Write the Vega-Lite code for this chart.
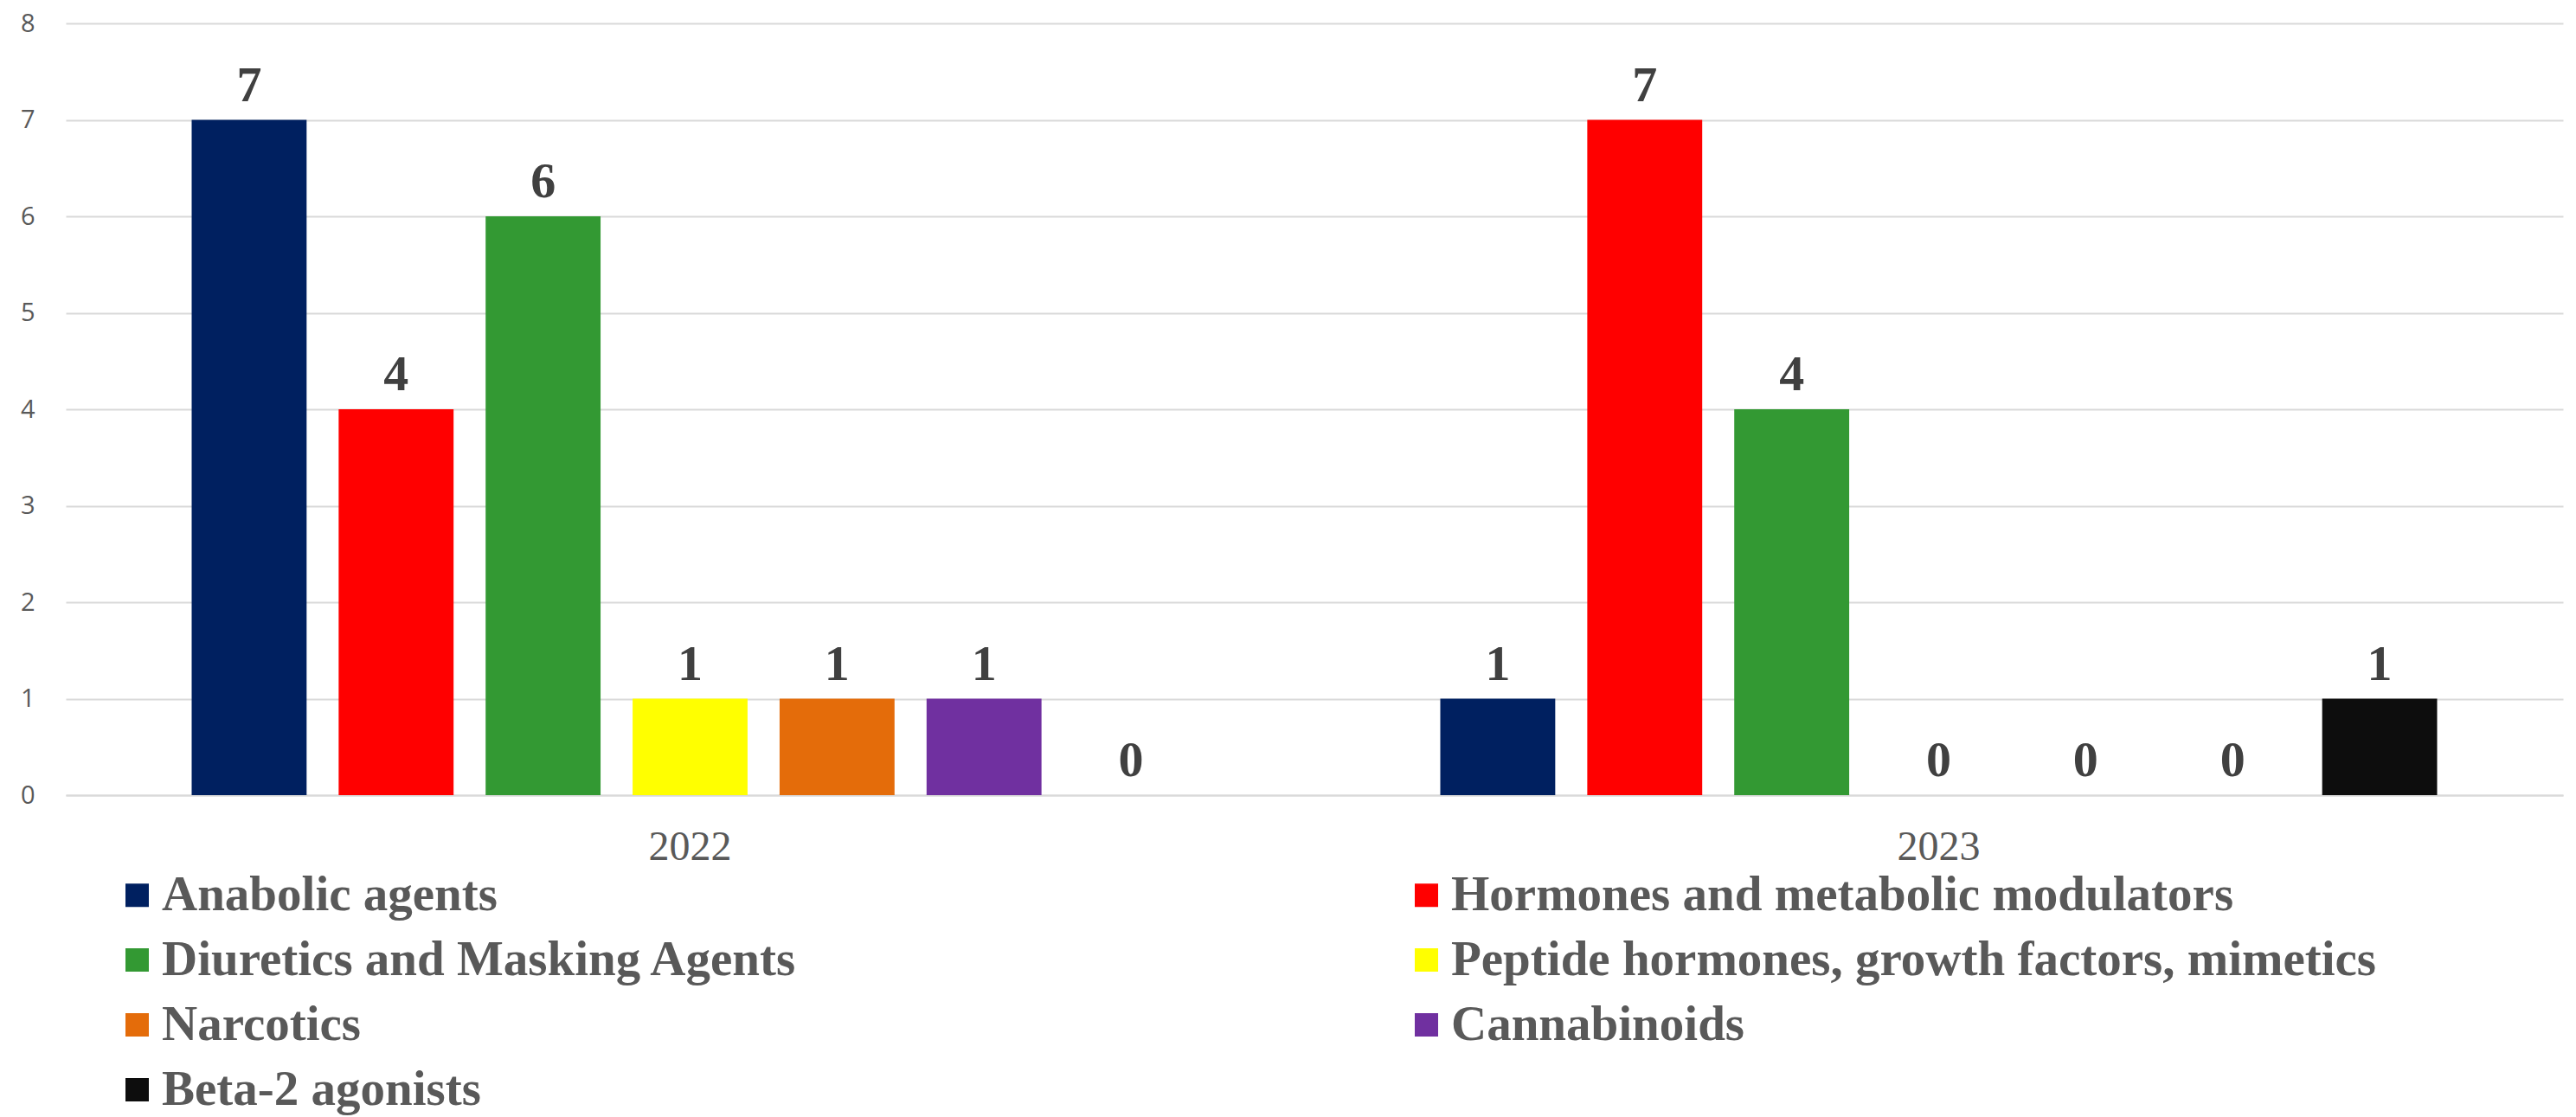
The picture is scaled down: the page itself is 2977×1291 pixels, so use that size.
{
  "$schema": "https://vega.github.io/schema/vega-lite/v6.json",
  "autosize": {"type": "none"},
  "padding": {"left": 76, "top": 27, "right": 15, "bottom": 372},
  "width": 2886,
  "height": 892,
  "background": "white",
  "config": {"view": {"stroke": null}},
  "data": {
    "values": [
      {"year": "2022", "category": "Anabolic agents", "count": 7},
      {"year": "2022", "category": "Hormones and metabolic modulators", "count": 4},
      {"year": "2022", "category": "Diuretics and Masking Agents", "count": 6},
      {"year": "2022", "category": "Peptide hormones, growth factors, mimetics", "count": 1},
      {"year": "2022", "category": "Narcotics", "count": 1},
      {"year": "2022", "category": "Cannabinoids", "count": 1},
      {"year": "2022", "category": "Beta-2 agonists", "count": 0},
      {"year": "2023", "category": "Anabolic agents", "count": 1},
      {"year": "2023", "category": "Hormones and metabolic modulators", "count": 7},
      {"year": "2023", "category": "Diuretics and Masking Agents", "count": 4},
      {"year": "2023", "category": "Peptide hormones, growth factors, mimetics", "count": 0},
      {"year": "2023", "category": "Narcotics", "count": 0},
      {"year": "2023", "category": "Cannabinoids", "count": 0},
      {"year": "2023", "category": "Beta-2 agonists", "count": 1}
    ]
  },
  "encoding": {
    "x": {
      "field": "year", "type": "nominal",
      "scale": {"paddingInner": 0.176, "paddingOuter": 0.088},
      "axis": {
        "title": null, "labelAngle": 0, "ticks": false,
        "domainColor": "#d9d9d9", "domainWidth": 2,
        "labelFont": "Liberation Serif", "labelFontSize": 48, "labelColor": "#595959",
        "labelPadding": 36
      }
    },
    "xOffset": {
      "field": "category", "type": "nominal",
      "sort": ["Anabolic agents", "Hormones and metabolic modulators", "Diuretics and Masking Agents", "Peptide hormones, growth factors, mimetics", "Narcotics", "Cannabinoids", "Beta-2 agonists"],
      "scale": {"paddingInner": 0.218, "paddingOuter": 0.109}
    },
    "y": {
      "field": "count", "type": "quantitative",
      "scale": {"domain": [0, 8], "nice": false},
      "axis": {
        "title": null, "values": [0, 1, 2, 3, 4, 5, 6, 7, 8],
        "domain": false, "ticks": false, "labelOverlap": false,
        "gridColor": "#d9d9d9", "gridWidth": 2,
        "labelFont": "Open Sans", "labelFontSize": 29, "labelColor": "#595959",
        "labelPadding": 36
      }
    }
  },
  "layer": [
    {
      "mark": {"type": "bar"},
      "encoding": {
        "color": {
          "field": "category", "type": "nominal",
          "sort": ["Anabolic agents", "Hormones and metabolic modulators", "Diuretics and Masking Agents", "Peptide hormones, growth factors, mimetics", "Narcotics", "Cannabinoids", "Beta-2 agonists"],
          "scale": {
            "domain": ["Anabolic agents", "Hormones and metabolic modulators", "Diuretics and Masking Agents", "Peptide hormones, growth factors, mimetics", "Narcotics", "Cannabinoids", "Beta-2 agonists"],
            "range": ["#002060", "#FF0000", "#339933", "#FFFF00", "#E46C0A", "#7030A0", "#0D0D0D"]
          },
          "legend": {
            "title": null, "orient": "none", "legendX": 54, "legendY": 979,
            "direction": "horizontal",
            "columns": 2, "columnPadding": 697, "rowPadding": 17,
            "symbolType": "square", "symbolSize": 729, "symbolStrokeWidth": 0, "symbolOpacity": 1,
            "labelFont": "Liberation Serif", "labelFontWeight": "bold", "labelFontSize": 57,
            "labelColor": "#595959", "labelOffset": 0, "labelLimit": 1500
          }
        }
      }
    },
    {
      "mark": {"type": "text", "dy": -22, "baseline": "alphabetic", "font": "Liberation Serif", "fontWeight": "bold", "fontSize": 58, "color": "#404040"},
      "encoding": {"text": {"field": "count", "type": "quantitative"}}
    }
  ]
}
